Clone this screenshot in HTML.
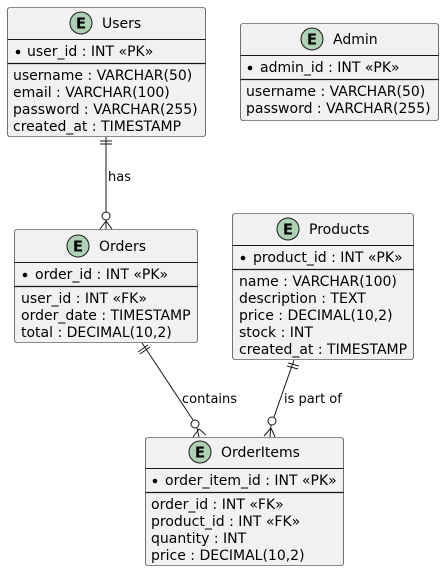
<!DOCTYPE html>
<html><head><meta charset="utf-8"><style>
html,body{margin:0;padding:0;background:#fff;}
svg{display:block;}
text{font-family:"DejaVu Sans","Liberation Sans",sans-serif;font-size:14px;fill:#000;}
.lbl{font-size:13px;}
.box{fill:#F1F1F1;stroke:#181818;stroke-width:0.6;}
.ln{stroke:#181818;stroke-width:1;}
.sep{stroke:#181818;stroke-width:1.3;}
.ec{fill:#ADD1B2;stroke:#181818;stroke-width:1;}
.et{font-weight:bold;font-size:15px;}
</style></head><body>
<svg width="444" height="571" viewBox="0 0 444 571" xmlns="http://www.w3.org/2000/svg">
<!-- Users -->
<rect class="box" x="7.5" y="7.5" width="198" height="129" rx="2.5"/>
<circle class="ec" cx="81" cy="23" r="11"/><text class="et" x="81" y="28.5" text-anchor="middle">E</text>
<text x="102" y="28">Users</text>
<line class="ln" x1="7.5" y1="39.5" x2="205.5" y2="39.5"/>
<circle cx="18" cy="52" r="2.3" fill="#000"/>
<text x="27" y="56">user_id : INT «PK»</text>
<line class="sep" x1="7.5" y1="63.5" x2="205.5" y2="63.5"/>
<text x="13" y="80">username : VARCHAR(50)</text>
<text x="13" y="97">email : VARCHAR(100)</text>
<text x="13" y="114">password : VARCHAR(255)</text>
<text x="13" y="131">created_at : TIMESTAMP</text>

<!-- Admin -->
<rect class="box" x="240.5" y="23.5" width="198" height="97" rx="2.5"/>
<circle class="ec" cx="312" cy="39" r="11"/><text class="et" x="312" y="44.5" text-anchor="middle">E</text>
<text x="333" y="44">Admin</text>
<line class="ln" x1="240.5" y1="55.5" x2="438.5" y2="55.5"/>
<circle cx="250" cy="68" r="2.3" fill="#000"/>
<text x="260" y="72">admin_id : INT «PK»</text>
<line class="sep" x1="240.5" y1="79.5" x2="438.5" y2="79.5"/>
<text x="246" y="96">username : VARCHAR(50)</text>
<text x="246" y="113">password : VARCHAR(255)</text>

<!-- Orders -->
<rect class="box" x="14.5" y="229.5" width="183" height="113" rx="2.5"/>
<circle class="ec" cx="78" cy="246" r="11"/><text class="et" x="78" y="251.5" text-anchor="middle">E</text>
<text x="99" y="251">Orders</text>
<line class="ln" x1="14.5" y1="262.5" x2="197.5" y2="262.5"/>
<circle cx="25" cy="275" r="2.3" fill="#000"/>
<text x="35" y="279">order_id : INT «PK»</text>
<line class="sep" x1="14.5" y1="286.5" x2="197.5" y2="286.5"/>
<text x="21" y="303">user_id : INT «FK»</text>
<text x="21" y="320">order_date : TIMESTAMP</text>
<text x="21" y="337">total : DECIMAL(10,2)</text>

<!-- Products -->
<rect class="box" x="232.5" y="213.5" width="181" height="146" rx="2.5"/>
<circle class="ec" cx="288" cy="229" r="11"/><text class="et" x="288" y="234.5" text-anchor="middle">E</text>
<text x="309" y="234">Products</text>
<line class="ln" x1="232.5" y1="245.5" x2="413.5" y2="245.5"/>
<circle cx="243" cy="258" r="2.3" fill="#000"/>
<text x="253" y="262">product_id : INT «PK»</text>
<line class="sep" x1="232.5" y1="269.5" x2="413.5" y2="269.5"/>
<text x="239" y="286">name : VARCHAR(100)</text>
<text x="239" y="303">description : TEXT</text>
<text x="239" y="320">price : DECIMAL(10,2)</text>
<text x="239" y="337">stock : INT</text>
<text x="239" y="354">created_at : TIMESTAMP</text>

<!-- OrderItems -->
<rect class="box" x="145.5" y="437.5" width="198" height="128" rx="2.5"/>
<circle class="ec" cx="200" cy="452" r="11"/><text class="et" x="200" y="457.5" text-anchor="middle">E</text>
<text x="221" y="457">OrderItems</text>
<line class="ln" x1="145.5" y1="468.5" x2="343.5" y2="468.5"/>
<circle cx="155" cy="481" r="2.3" fill="#000"/>
<text x="165" y="485">order_item_id : INT «PK»</text>
<line class="sep" x1="145.5" y1="492.5" x2="343.5" y2="492.5"/>
<text x="151" y="509">order_id : INT «FK»</text>
<text x="151" y="526">product_id : INT «FK»</text>
<text x="151" y="543">quantity : INT</text>
<text x="151" y="560">price : DECIMAL(10,2)</text>

<!-- Users -> Orders -->
<g fill="none" stroke="#181818" stroke-width="1">
<line x1="106" y1="137" x2="106" y2="212"/>
<line x1="100" y1="141" x2="112" y2="141"/>
<line x1="100" y1="144" x2="112" y2="144"/>
<circle cx="106" cy="216" r="4" fill="#fff"/>
<line x1="106" y1="220" x2="106" y2="229"/>
<line x1="106" y1="221" x2="100" y2="229"/>
<line x1="106" y1="221" x2="112" y2="229"/>

<!-- Orders -> OrderItems -->
<line x1="142" y1="343" x2="193" y2="420"/>
<line x1="138" y1="352" x2="148" y2="345"/>
<line x1="140" y1="354" x2="150" y2="347"/>
<circle cx="195" cy="424" r="4" fill="#fff"/>
<line x1="197" y1="428" x2="199" y2="437"/>
<line x1="199" y1="429" x2="193" y2="437"/>
<line x1="199" y1="429" x2="206" y2="435"/>

<!-- Products -> OrderItems -->
<line x1="294" y1="360" x2="274" y2="417"/>
<line x1="288" y1="363" x2="299" y2="366"/>
<line x1="287" y1="366" x2="298" y2="369"/>
<circle cx="272" cy="421" r="4" fill="#fff"/>
<line x1="271" y1="425" x2="270" y2="437"/>
<line x1="271" y1="428" x2="264" y2="436"/>
<line x1="271" y1="428" x2="275" y2="437"/>
</g>
<text class="lbl" x="108" y="181">has</text>
<text class="lbl" x="182" y="403">contains</text>
<text class="lbl" x="284" y="403">is part of</text>
</svg>
</body></html>
